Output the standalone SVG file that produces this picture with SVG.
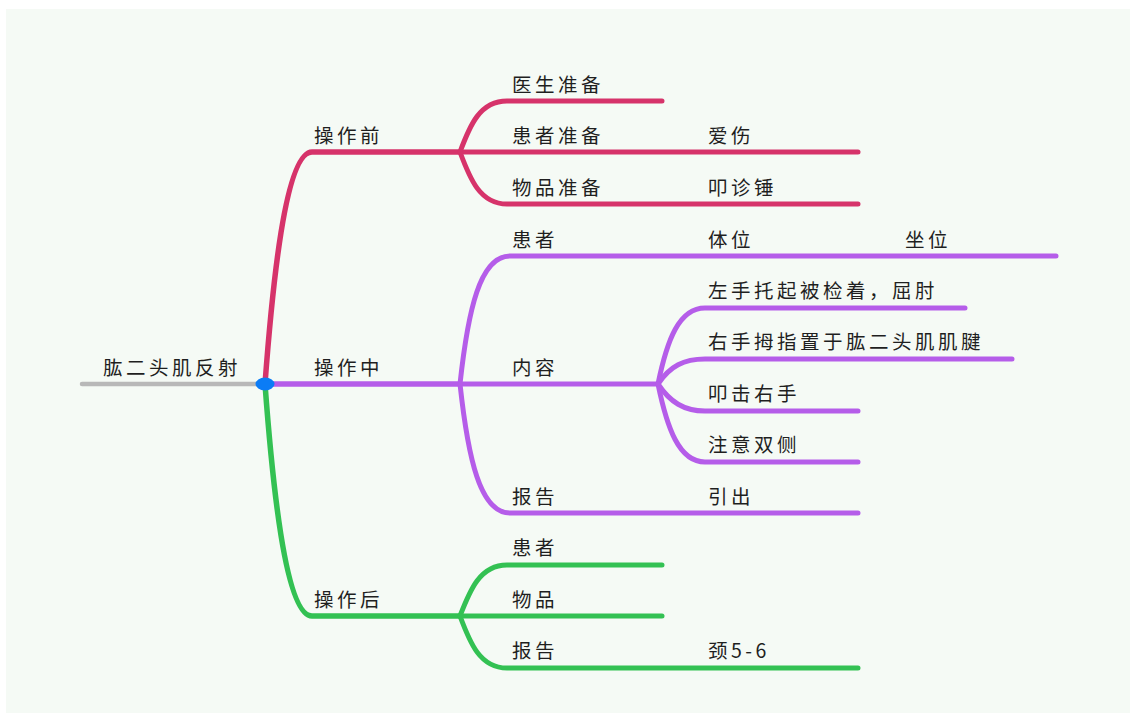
<svg xmlns="http://www.w3.org/2000/svg" width="1130" height="713" viewBox="0 0 1130 713">
<style>
text{font-family:"Noto Sans CJK SC","Noto Sans",sans-serif;font-size:19.5px;letter-spacing:3.5px;fill:#1f1f1f}
.ln{fill:none;stroke-linecap:round;stroke-linejoin:round}
.r{stroke:#d6336a}
.p{stroke:#b55de9}
.g{stroke:#33c153}
.w1{stroke-width:5.5}
.w2{stroke-width:5}
</style>
<rect x="0" y="0" width="1130" height="713" fill="#ffffff"/>
<rect x="6" y="9" width="1124" height="704" fill="#f5faf5"/>
<g id="connectors">
<path class="ln" d="M82,384 L265,384" stroke="#b8b8b8" stroke-width="4.5"/>
<path class="ln r w1" d="M265,384 C272,290 285,152 312,152 L460,152"/>
<path class="ln p w1" d="M265,384 L460,384"/>
<path class="ln g w1" d="M265,384 C272,478 285,616 312,616 L460,616"/>
<path class="ln r w2" d="M460,152 C470,125 480,101 507,101 L662,101"/>
<path class="ln r w2" d="M460,152 L858,152"/>
<path class="ln r w2" d="M460,152 C470,179 480,204 507,204 L858,204"/>
<path class="ln p w2" d="M460,384 C468,310 480,256 510,256 L1056,256"/>
<path class="ln p w2" d="M460,384 L658,384"/>
<path class="ln p w2" d="M460,384 C468,458 480,513 510,513 L858,513"/>
<path class="ln p w2" d="M658,384 C667,340 679,308 705,308 L965,308"/>
<path class="ln p w2" d="M658,384 C670,366 684,359 705,359 L1012,359"/>
<path class="ln p w2" d="M658,384 C670,402 684,411 705,411 L858,411"/>
<path class="ln p w2" d="M658,384 C667,428 679,462 705,462 L858,462"/>
<path class="ln g w2" d="M460,616 C470,590 480,565 507,565 L662,565"/>
<path class="ln g w2" d="M460,616 L662,616"/>
<path class="ln g w2" d="M460,616 C470,643 480,668 507,668 L858,668"/>
</g>
<g id="root">
<ellipse cx="265" cy="384" rx="9.5" ry="6.5" fill="#0b7cf6"/>
<text x="103" y="375">肱二头肌反射</text>
</g>
<g id="before"><text x="314" y="143">操作前</text></g>
<g id="during"><text x="314" y="375">操作中</text></g>
<g id="after"><text x="314" y="607">操作后</text></g>
<g id="doctor-prep"><text x="512" y="92">医生准备</text></g>
<g id="patient-prep"><text x="512" y="143">患者准备</text></g>
<g id="care"><text x="708" y="143">爱伤</text></g>
<g id="item-prep"><text x="512" y="195">物品准备</text></g>
<g id="hammer"><text x="708" y="195">叩诊锤</text></g>
<g id="patient-mid"><text x="512" y="247">患者</text></g>
<g id="posture"><text x="708" y="247">体位</text></g>
<g id="sitting"><text x="905" y="247">坐位</text></g>
<g id="content"><text x="512" y="375">内容</text></g>
<g id="step1"><text x="708" y="298">左手托起被检着，屈肘</text></g>
<g id="step2"><text x="708" y="349">右手拇指置于肱二头肌肌腱</text></g>
<g id="step3"><text x="708" y="401">叩击右手</text></g>
<g id="step4"><text x="708" y="452">注意双侧</text></g>
<g id="report-mid"><text x="512" y="504">报告</text></g>
<g id="elicit"><text x="708" y="504">引出</text></g>
<g id="patient-after"><text x="512" y="555">患者</text></g>
<g id="items-after"><text x="512" y="607">物品</text></g>
<g id="report-after"><text x="512" y="658">报告</text></g>
<g id="cervical"><text x="708" y="658" letter-spacing="1">颈5-6</text></g>
</svg>
